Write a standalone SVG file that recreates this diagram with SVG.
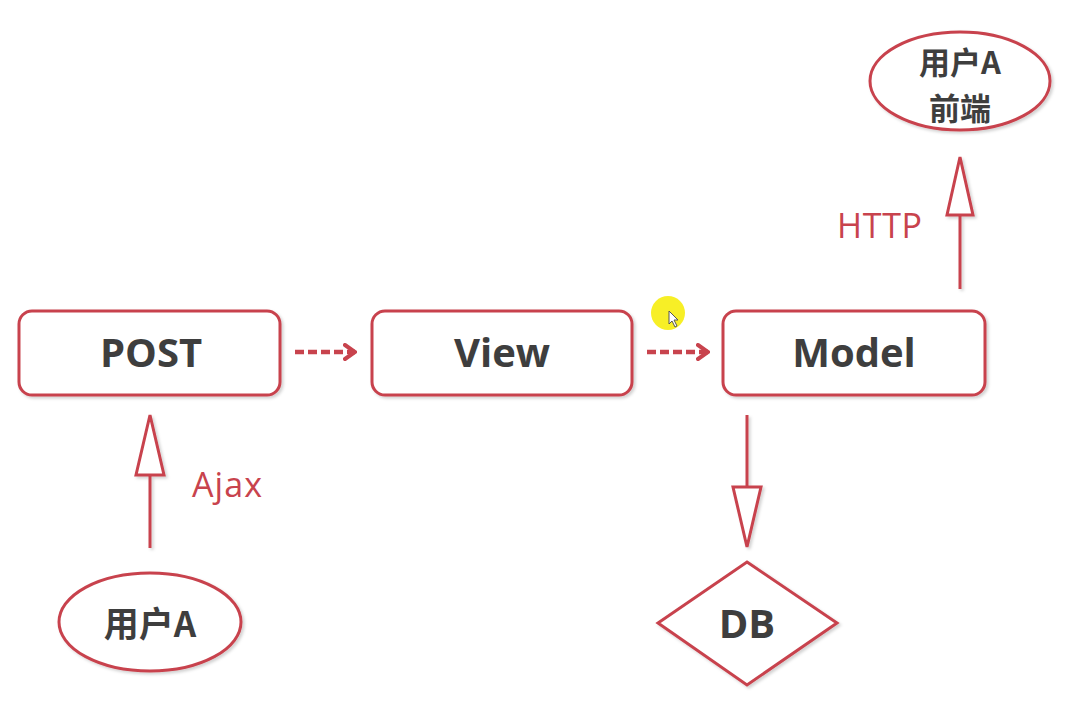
<svg xmlns="http://www.w3.org/2000/svg" width="1081" height="711" viewBox="0 0 1081 711">
<defs>
<style>
.box{fill:#fff;stroke:#c8434d;stroke-width:3}
.lbl{font-family:"Open Sans","Liberation Sans","Noto Sans CJK SC",sans-serif;font-weight:700;fill:#3e3e3e;text-anchor:middle}
.cjk{font-family:"Noto Sans CJK SC","Open Sans",sans-serif;font-weight:700;fill:#3e3e3e;text-anchor:middle}
.edge{font-family:"Open Sans","Liberation Sans",sans-serif;font-size:34px;fill:#c8434d}
.line{stroke:#c8434d;stroke-width:3;fill:none}
.dash{stroke:#c8434d;stroke-width:4.5;fill:none;stroke-dasharray:9 4}
.head{fill:#fff;stroke:#c8434d;stroke-width:3;stroke-linejoin:miter}
</style>
<filter id="sh" x="-10%" y="-10%" width="125%" height="130%">
<feDropShadow dx="2" dy="2" stdDeviation="1.5" flood-color="#000" flood-opacity="0.18"/>
</filter>
<marker id="chev" viewBox="0 0 14 18" refX="12" refY="9" markerWidth="14" markerHeight="18" markerUnits="userSpaceOnUse" orient="auto">
<path d="M2,2 L12,9 L2,16" fill="none" stroke="#c8434d" stroke-width="4" stroke-linecap="round"/>
</marker>
</defs>
<rect width="1081" height="711" fill="#fff"/>

<g id="connectors">
<line class="dash" x1="295" y1="352" x2="355" y2="352" marker-end="url(#chev)"/>
<line class="dash" x1="647" y1="352" x2="708" y2="352" marker-end="url(#chev)"/>
<g filter="url(#sh)">
<line class="line" x1="150" y1="548" x2="150" y2="475"/>
<polygon class="head" points="150,415 136,475 164,475"/>
<line class="line" x1="960" y1="289" x2="960" y2="215"/>
<polygon class="head" points="960,157 947,215 973,215"/>
<line class="line" x1="747" y1="415" x2="747" y2="487"/>
<polygon class="head" points="747,547 733,487 761,487"/>
</g>
<text class="edge" x="192" y="497" textLength="70">Ajax</text>
<text class="edge" x="837" y="238" textLength="85">HTTP</text>
</g>

<g id="node-post">
<rect class="box" filter="url(#sh)" x="19" y="311" width="261" height="84" rx="13"/>
<text class="lbl" x="151" y="367" font-size="40">POST</text>
</g>
<g id="node-view">
<rect class="box" filter="url(#sh)" x="372" y="311" width="260" height="84" rx="13"/>
<text class="lbl" x="502" y="367" font-size="40">View</text>
</g>
<g id="node-model">
<rect class="box" filter="url(#sh)" x="723" y="311" width="262" height="84" rx="13"/>
<text class="lbl" x="854" y="367" font-size="40">Model</text>
</g>
<g id="node-frontend">
<ellipse class="box" filter="url(#sh)" cx="960" cy="81" rx="90" ry="49"/>
<text class="cjk" x="960" y="74" font-size="31">用户A</text>
<text class="cjk" x="960" y="120" font-size="31">前端</text>
</g>
<g id="node-user">
<ellipse class="box" filter="url(#sh)" cx="150" cy="622" rx="91" ry="49"/>
<text class="cjk" x="150" y="637" font-size="35">用户A</text>
</g>
<g id="node-db">
<polygon class="box" filter="url(#sh)" points="747,562 837,623 747,685 658,623"/>
<text class="lbl" x="747" y="638" font-size="40">DB</text>
</g>

<g id="cursor">
<circle cx="668" cy="313" r="17" fill="#f7ee1a" opacity="0.95"/>
<path d="M669,311 L669,324 L672,321 L675,327 L677,326 L674,320 L678,320 Z" fill="#fff" stroke="#555" stroke-width="1"/>
</g>
</svg>
